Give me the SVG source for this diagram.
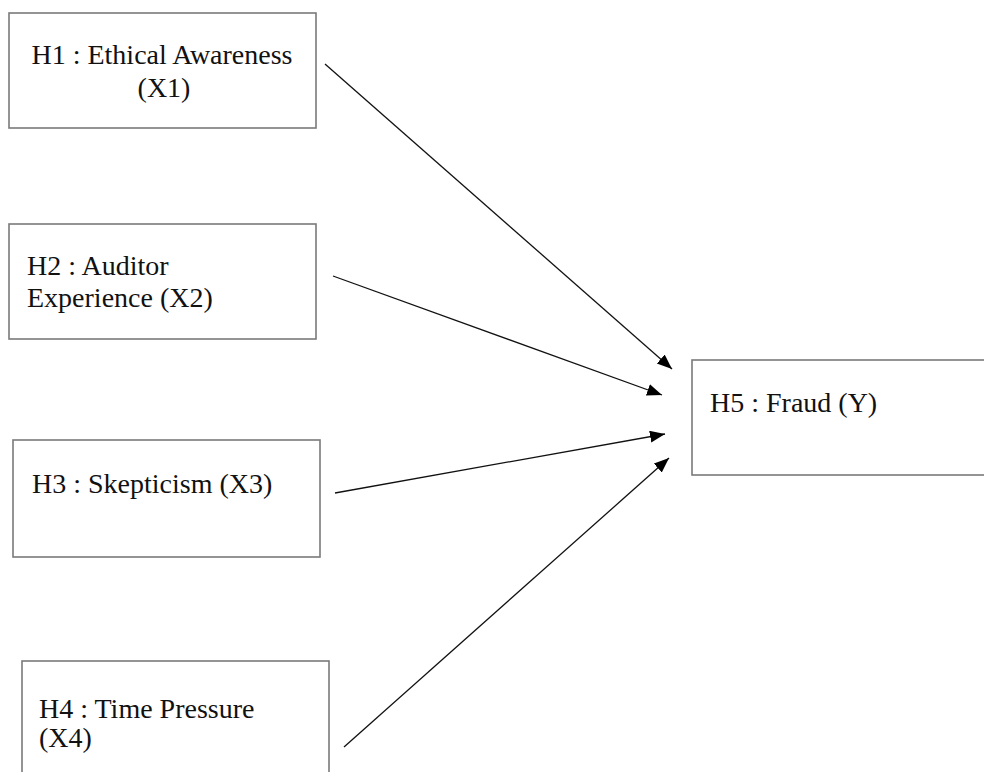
<svg xmlns="http://www.w3.org/2000/svg" width="984" height="772" viewBox="0 0 984 772">
<defs>
<style>
.box{fill:#fff;stroke:#7a7a7a;stroke-width:1.6}
.t{font-family:"Liberation Serif","Times New Roman",serif;font-size:28px;fill:#111}
.c{stroke:#111;stroke-width:1.3;fill:none;marker-end:url(#ah)}
</style>
<marker id="ah" markerUnits="userSpaceOnUse" markerWidth="16" markerHeight="13" refX="15" refY="6" orient="auto" viewBox="0 0 16 13">
<path d="M0,0 L15,6 L0,12 z" fill="#000"/>
</marker>
</defs>
<rect width="984" height="772" fill="#fff"/>
<g id="n1">
<rect class="box" x="9" y="13" width="307" height="115"/>
<text class="t" x="162" y="64" text-anchor="middle">H1 : Ethical Awareness</text>
<text class="t" x="164" y="97" text-anchor="middle">(X1)</text>
</g>
<g id="n2">
<rect class="box" x="9" y="224" width="307" height="115"/>
<text class="t" x="27" y="275">H2 : Auditor</text>
<text class="t" x="27" y="307">Experience (X2)</text>
</g>
<g id="n3">
<rect class="box" x="13" y="440" width="307" height="117"/>
<text class="t" x="32" y="493">H3 : Skepticism (X3)</text>
</g>
<g id="n4">
<rect class="box" x="22" y="661" width="307" height="120"/>
<text class="t" x="39" y="718">H4 : Time Pressure</text>
<text class="t" x="39" y="747">(X4)</text>
</g>
<g id="n5">
<rect class="box" x="692" y="360" width="310" height="115"/>
<text class="t" x="710" y="412">H5 : Fraud (Y)</text>
</g>
<g id="connectors">
<line class="c" x1="325" y1="64" x2="672" y2="369"/>
<line class="c" x1="333" y1="276" x2="662" y2="395"/>
<line class="c" x1="335" y1="493" x2="665" y2="434"/>
<line class="c" x1="344" y1="747" x2="669" y2="458"/>
</g>
</svg>
